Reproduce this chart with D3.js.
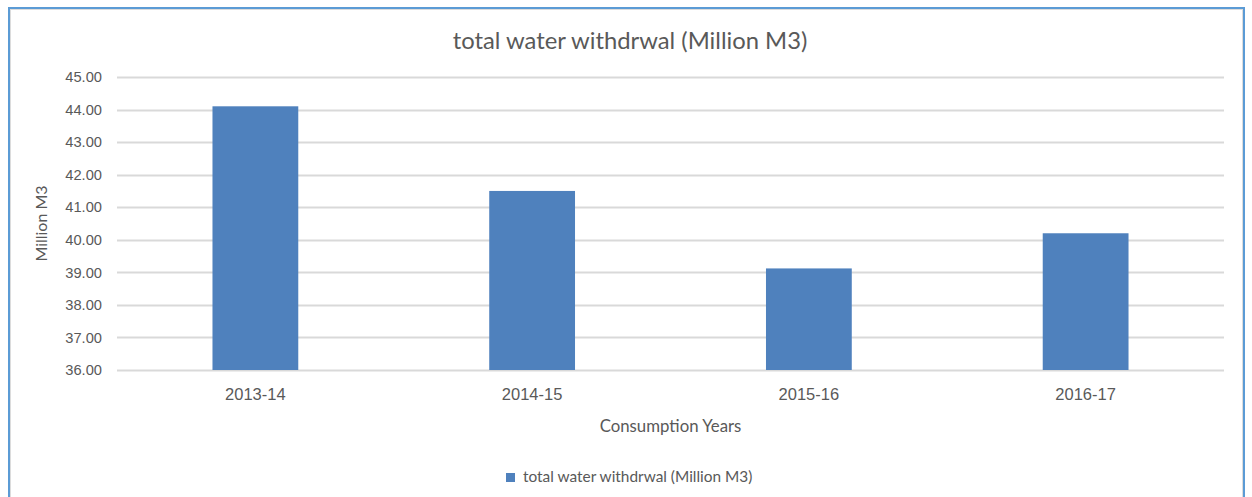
<!DOCTYPE html>
<html lang="en">
	<head>
		<meta charset="utf-8">
		<title>total water withdrwal</title>
		<script src="https://d3js.org/d3.v7.min.js"></script>
		<style>
			body { margin: 0; background: #fff; }
			text { fill: #595959; }
			.lbl { font-family: Lato, "Open Sans", sans-serif; }
			.tick text { font-family: "Liberation Sans", Arial, sans-serif; }
		</style>
	</head>
	<body>
		<script>
			//Data
			var years = ["2013-14", "2014-15", "2015-16", "2016-17"];
			var withdrawal = [44.1, 41.5, 39.12, 40.2];
			var yTicks = [36, 37, 38, 39, 40, 41, 42, 43, 44, 45];
			var seriesName = "total water withdrwal (Million M3)";

			var w = 1252, h = 497;
			var margin = {left: 117, right: 28, top: 77, bottom: 127};

			var svg = d3.select("body").append("svg")
				.attr("width", w)
				.attr("height", h);

			//chart frame
			svg.append("rect")
				.attr("x", 9).attr("y", 8)
				.attr("width", 1235).attr("height", 510)
				.attr("fill", "#fff")
				.attr("stroke", "#5b9bd5")
				.attr("stroke-width", 2);
			svg.append("rect")
				.attr("x", 10.5).attr("y", 9.5)
				.attr("width", 1232).attr("height", 510)
				.attr("fill", "none")
				.attr("stroke", "#dcdcdc")
				.attr("stroke-width", 1);

			var x = d3.scaleBand()
				.domain(years)
				.range([margin.left, w - margin.right])
				.paddingInner(0.69)
				.paddingOuter(0.345);

			var y = d3.scaleLinear()
				.domain([36, 45])
				.range([h - margin.bottom, margin.top]);

			//gridlines
			svg.append("g")
				.selectAll("line")
				.data(yTicks)
				.enter()
				.append("line")
				.attr("x1", margin.left)
				.attr("x2", w - margin.right)
				.attr("y1", function(d) { return Math.round(y(d)) + 0.5; })
				.attr("y2", function(d) { return Math.round(y(d)) + 0.5; })
				.attr("stroke", "#d9d9d9")
				.attr("stroke-width", 2);

			//bars
			svg.append("g")
				.selectAll("rect")
				.data(withdrawal)
				.enter()
				.append("rect")
				.attr("x", function(d, i) { return x(years[i]); })
				.attr("width", x.bandwidth())
				.attr("y", function(d) { return y(d); })
				.attr("height", function(d) { return y(36) - y(d); })
				.attr("fill", "#4f81bd");

			//y axis
			var yAxis = svg.append("g")
				.attr("transform", "translate(" + (margin.left - 15) + ",0)")
				.call(d3.axisLeft(y).tickValues(yTicks).tickSize(0).tickPadding(0)
					.tickFormat(d3.format(".2f")));
			yAxis.select(".domain").remove();
			yAxis.selectAll("text")
				.attr("font-size", 14.7)
				.style("fill", "#595959");

			//x axis
			var xAxis = svg.append("g")
				.attr("transform", "translate(0," + (h - margin.bottom) + ")")
				.call(d3.axisBottom(x).tickSize(0).tickPadding(18));
			xAxis.select(".domain").remove();
			xAxis.selectAll("text")
				.attr("font-size", 16.5)
				.style("fill", "#595959");

			//title
			svg.append("text")
				.attr("class", "lbl")
				.attr("x", 630)
				.attr("y", 49)
				.attr("text-anchor", "middle")
				.attr("font-size", 23.8)
				.text(seriesName);

			//axis titles
			svg.append("text")
				.attr("class", "lbl")
				.attr("x", 670.5)
				.attr("y", 432)
				.attr("text-anchor", "middle")
				.attr("font-size", 16.8)
				.text("Consumption Years");

			svg.append("text")
				.attr("class", "lbl")
				.attr("transform", "translate(47,223.5) rotate(-90)")
				.attr("text-anchor", "middle")
				.attr("font-size", 16)
				.text("Million M3");

			//legend
			var legend = svg.append("g")
				.attr("transform", "translate(506,473)");
			legend.append("rect")
				.attr("width", 9).attr("height", 9)
				.attr("fill", "#4f81bd");
			legend.append("text")
				.attr("class", "lbl")
				.attr("x", 17)
				.attr("y", 9)
				.attr("font-size", 15.4)
				.text(seriesName);
		</script>
	</body>
</html>
